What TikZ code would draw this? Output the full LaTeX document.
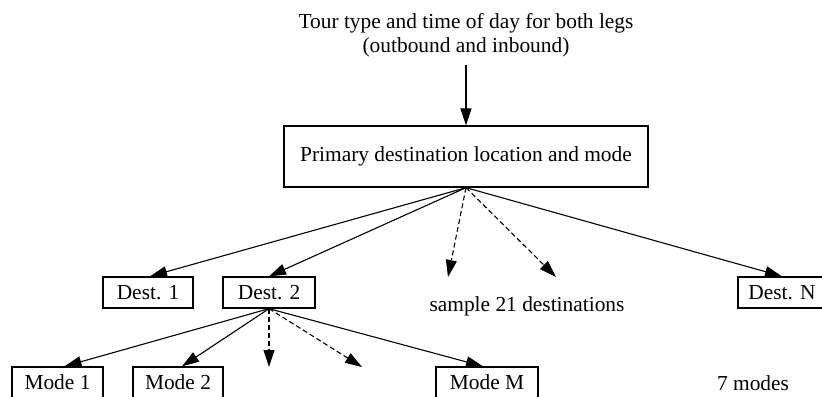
\documentclass[tikz,border=0pt]{standalone}
\usepackage{fontspec}
\setmainfont{Liberation Serif}
\usetikzlibrary{arrows.meta}
\tikzset{
	box/.style={draw, line width=0.65pt, inner sep=0pt, minimum height=15.5pt},
	arr/.style={-{Triangle[length=8.5pt,width=5.5pt]}, line width=0.55pt},
	darr/.style={arr, dashed, dash pattern=on 2.5pt off 1.5pt}
}
\begin{document}
\begin{tikzpicture}[x=0.5pt, y=-0.5pt, font=\fontsize{10.7}{12}\selectfont]
			%%%%% START %%%%%
			\useasboundingbox (0, 0) rectangle (822, 396);
			
			\node[align=center] (tour) at (466, 35) {Tour type and time of day for both legs\\(outbound and inbound)};
			\node[box, minimum width=182pt, minimum height=30.5pt] (prim) at (466, 156.5) {Primary destination location and mode};
			\draw[arr] (466, 65) -- (prim.north);
			
			\node[box, minimum width=45pt] (d1) at (148, 292.5) {Dest. 1};
			\node[box, minimum width=46pt] (d2) at (269, 292.5) {Dest. 2};
			\node[box, minimum width=44pt] (dn) at (782, 292.5) {Dest. N};
			\node (samp) at (527, 306) {sample 21 destinations};
			
			\coordinate (p1) at (448, 277);
			\coordinate (p2) at (556, 277);
			\draw[arr] (prim.south) -- ([xshift=1pt]d1.north);
			\draw[arr] (prim.south) -- (d2.north);
			\draw[darr] (prim.south) -- (p1);
			\draw[darr] (prim.south) -- (p2);
			\draw[arr] (prim.south) -- (dn.north);
			
			\node[box, minimum width=45.5pt] (m1) at (57.5, 382.5) {Mode 1};
			\node[box, minimum width=45pt] (m2) at (178, 382.5) {Mode 2};
			\node[box, minimum width=51pt] (mm) at (487, 382.5) {Mode M};
			\node (seven) at (753, 383) {7 modes};
			
			\coordinate (q1) at (269, 367);
			\coordinate (q2) at (362, 367);
			\draw[arr] (d2.south) -- ([xshift=3.5pt]m1.north);
			\draw[arr] (d2.south) -- ([xshift=2pt]m2.north);
			\draw[darr] (d2.south) -- (q1);
			\draw[darr] (d2.south) -- (q2);
			\draw[arr] (d2.south) -- ([xshift=-2pt]mm.north);
			%%%%% END %%%%%
\end{tikzpicture}
\end{document}
